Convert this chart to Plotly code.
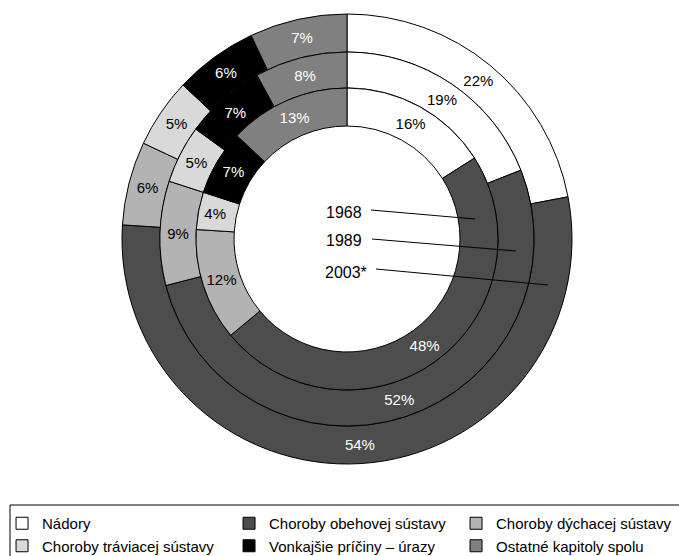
import plotly.graph_objects as go

categories = ["Nádory", "Choroby obehovej sústavy", "Choroby dýchacej sústavy",
              "Choroby tráviacej sústavy", "Vonkajšie príčiny – úrazy", "Ostatné kapitoly spolu"]
years = ["1968", "1989", "2003*"]
values_1968 = [16, 48, 12, 4, 7, 13]
values_1989 = [19, 52, 9, 5, 7, 8]
values_2003 = [22, 54, 6, 5, 6, 7]

colors = ["#ffffff", "#4d4d4d", "#b3b3b3", "#d9d9d9", "#000000", "#808080"]
text_colors = ["#000000", "#ffffff", "#000000", "#000000", "#ffffff", "#ffffff"]

W, H = 679, 556
FONT = "Liberation Sans, Arial, sans-serif"
cx, cy = 347, 239  # center in px (from top)


def dom(r):
    return dict(x=[(cx - r) / W, (cx + r) / W], y=[(H - cy - r) / H, (H - cy + r) / H])


rings = [
    (values_2003, 225, 187 / 225, True),
    (values_1989, 187, 151 / 187, False),
    (values_1968, 151, 113 / 151, False),
]

fig = go.Figure()
for vals, r, hole, show in rings:
    fig.add_trace(go.Pie(
        labels=categories, values=vals, sort=False, direction="clockwise", rotation=0,
        hole=hole, domain=dom(r),
        marker=dict(colors=colors, line=dict(color="#000000", width=1)),
        texttemplate="%{value}%", textposition="inside", insidetextorientation="horizontal",
        textfont=dict(color=text_colors, size=15, family=FONT),
        hoverinfo="skip", showlegend=show,
    ))

# year labels with leader lines
label_pos = [(364, 212, 371, 210, 475, 219), (364, 240, 372, 239, 516, 251), (369, 272, 376, 269, 548, 285)]
for yr, (tx, ty, x0, y0, x1, y1) in zip(years, label_pos):
    fig.add_annotation(x=tx / W, y=1 - ty / H, xref="paper", yref="paper", text=yr,
                       showarrow=False, xanchor="right", yanchor="middle",
                       font=dict(size=16, family=FONT, color="#000000"))
    fig.add_shape(type="line", xref="paper", yref="paper", x0=x0 / W, y0=1 - y0 / H,
                  x1=x1 / W, y1=1 - y1 / H, line=dict(color="#000000", width=1))

# legend frame
fig.add_shape(type="rect", xref="paper", yref="paper", x0=10 / W, x1=1.05,
              y0=-0.1, y1=1 - 505 / H, line=dict(color="#000000", width=1), fillcolor="rgba(0,0,0,0)")

fig.update_layout(
    width=W, height=H, margin=dict(l=0, r=0, t=0, b=0, autoexpand=False),
    paper_bgcolor="#ffffff", plot_bgcolor="#ffffff",
    font=dict(family=FONT, size=15, color="#000000"),
    uniformtext=dict(minsize=15, mode="show"),
    legend=dict(orientation="h", x=0.003, xanchor="left", y=1 - 507 / H, yanchor="top",
                entrywidth=182, entrywidthmode="pixels", traceorder="normal",
                bgcolor="rgba(0,0,0,0)", borderwidth=0, font=dict(size=15, family=FONT)),
)

fig.write_html("out.html")
